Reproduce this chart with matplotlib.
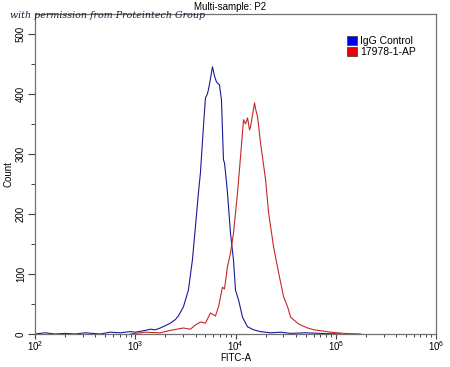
import numpy as np
import matplotlib
matplotlib.use("Agg")
import matplotlib.pyplot as plt
from matplotlib.patches import Patch
from matplotlib.ticker import LogLocator, MultipleLocator

# histogram traces (x as log10 of FITC-A)
igg_logx = [2.0, 2.1, 2.2, 2.3, 2.4, 2.5, 2.65, 2.75, 2.85, 2.95, 3.0, 3.1, 3.15, 3.2, 3.25,
            3.3, 3.35, 3.4, 3.43, 3.48, 3.53, 3.57, 3.60, 3.63, 3.65, 3.68, 3.70, 3.72,
            3.73, 3.75, 3.77, 3.79, 3.81, 3.82, 3.84, 3.86, 3.88, 3.89, 3.90, 3.92,
            3.95, 3.98, 4.00, 4.03, 4.07, 4.12, 4.18, 4.25, 4.35, 4.45, 4.55, 4.7,
            4.85, 5.05]
igg_count = [0, 2, 0, 1, 0, 2, 0, 3, 2, 4, 3, 6, 8, 7, 10,
             14, 18, 24, 30, 45, 73, 123, 178, 235, 268, 345, 393, 400,
             407, 425, 445, 430, 420, 418, 415, 390, 290, 285, 270, 235,
             168, 123, 73, 57, 28, 12, 7, 4, 2, 3, 1, 2,
             1, 0]

ap_logx = [2.95, 3.1, 3.25, 3.35, 3.48, 3.55, 3.60, 3.65, 3.70, 3.75, 3.80, 3.83,
           3.87, 3.89, 3.92, 3.95, 3.98, 4.02, 4.05, 4.08, 4.10, 4.12, 4.14, 4.15,
           4.17, 4.19, 4.20, 4.22, 4.25, 4.30, 4.33, 4.38, 4.43, 4.48, 4.52, 4.55,
           4.62, 4.65, 4.72, 4.78, 4.87, 4.95, 5.08, 5.25]
ap_count = [0, 3, 2, 6, 10, 8, 15, 20, 18, 35, 30, 45,
            78, 75, 112, 135, 168, 235, 295, 357, 350, 360, 340, 345,
            365, 385, 375, 362, 318, 257, 202, 145, 102, 62, 45, 28,
            18, 15, 10, 7, 5, 3, 1, 0]

labels = ["IgG Control", "17978-1-AP"]
colors = ["#1a1a96", "#c42828"]

plt.rcParams['font.family'] = ['Liberation Sans', 'DejaVu Sans']

fig = plt.figure(figsize=(4.5, 3.67), dpi=100)
ax = fig.add_axes([35/450, 1-334/367, (436-35)/450, (334-14)/367])

ax.plot(10**np.array(igg_logx), igg_count, color=colors[0], lw=0.8)
ax.plot(10**np.array(ap_logx), ap_count, color=colors[1], lw=0.8)

ax.set_xscale('log')
ax.set_xlim(1e2, 1e6)
ax.set_ylim(0, 533)

ax.xaxis.set_major_locator(LogLocator(base=10, numticks=10))
ax.xaxis.set_minor_locator(LogLocator(base=10, subs=np.arange(2, 10), numticks=10))
ax.yaxis.set_major_locator(MultipleLocator(100))
ax.yaxis.set_minor_locator(MultipleLocator(50))

ax.tick_params(axis='y', which='major', direction='out', length=5, width=0.8,
               color='#404040', labelsize=7, pad=1.5)
ax.tick_params(axis='y', which='minor', direction='out', length=3, width=0.7,
               color='#404040')
ax.tick_params(axis='x', which='major', direction='out', length=3.5, width=0.8,
               color='#404040', labelsize=7, pad=0.5)
ax.tick_params(axis='x', which='minor', direction='out', length=2.5, width=0.7,
               color='#404040')
for lab in ax.get_yticklabels():
    lab.set_rotation(90)
    lab.set_va('center')

for s in ax.spines.values():
    s.set_color('#707070')
    s.set_linewidth(0.9)

ax.set_xlabel("FITC-A", fontsize=7)
ax.xaxis.set_label_coords(0.5, -0.058)
ax.set_ylabel("Count", fontsize=7, labelpad=2)

fig.text(230/450, 1-7/367, "Multi-sample: P2", ha='center', va='center', fontsize=7)
fig.text(10/450, 1-16/367, "with permission from Proteintech Group", ha='left', va='center',
         fontsize=6.8, style='italic', family='DejaVu Serif', color='#1a1a40')

handles = [Patch(facecolor=c, edgecolor='#333333', lw=0.5) for c in ["#0000ee", "#ee0000"]]
ax.legend(handles, labels, loc='upper right', bbox_to_anchor=(0.965, 0.95), frameon=False,
          fontsize=7.5, handlelength=0.9, handleheight=0.9, handletextpad=0.3,
          labelspacing=0.05, borderaxespad=0.2)

fig.savefig("out.png", dpi=100)
